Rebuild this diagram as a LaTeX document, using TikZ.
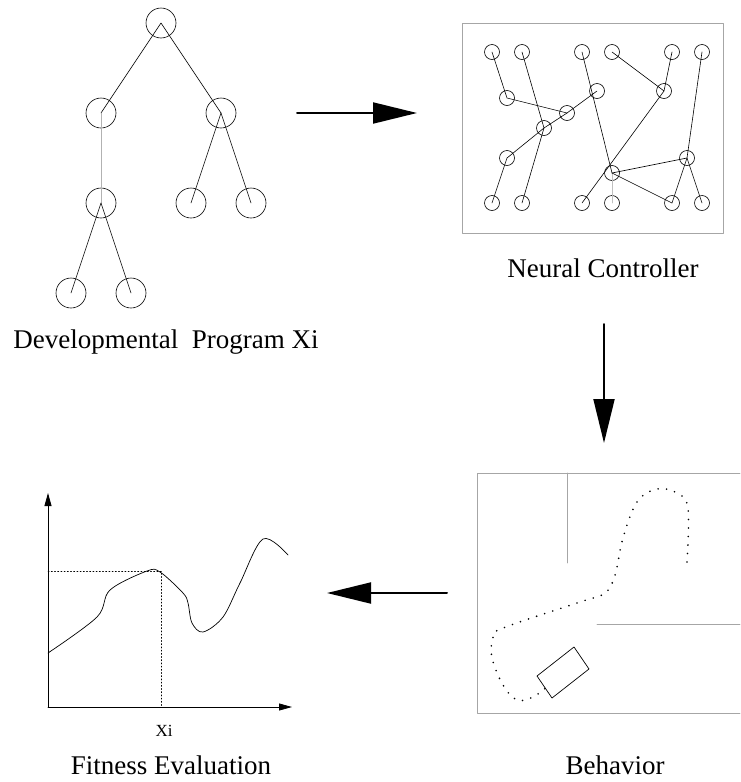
\documentclass[tikz,border=0pt]{standalone}
\usepackage{fontspec}
\setmainfont{Liberation Serif}
\usetikzlibrary{arrows.meta}
\begin{document}
\begin{tikzpicture}[x=1pt,y=-1pt,line cap=round,line join=round,
  gene/.style={circle,draw,line width=0.6pt,minimum size=30pt,inner sep=0pt},
  unit/.style={circle,draw,line width=0.6pt,minimum size=15pt,inner sep=0pt},
  wire/.style={line width=0.6pt},
  bigarrow/.style={line width=2pt,-{Triangle[length=44pt,width=21pt]}},
  axis/.style={line width=0.8pt,-{Triangle[length=13pt,width=7pt]}},
  lbl/.style={font=\fontsize{27}{30}\selectfont,anchor=base}]
\useasboundingbox (0,0) rectangle (740,782);
% developmental program
\node[gene] (root) at (161,23) {};
\node[gene] (l) at (101,113) {};
\node[gene] (r) at (221,113) {};
\node[gene] (ll) at (101,203) {};
\node[gene] (rl) at (191,203) {};
\node[gene] (rr) at (251,203) {};
\node[gene] (lll) at (71,293) {};
\node[gene] (llr) at (131,293) {};
\draw[wire] (root.center) -- (l.center);
\draw[wire] (root.center) -- (r.center);
\draw[wire,gray!60] (l.center) -- (ll.center);
\draw[wire] (ll.center) -- (lll.center);
\draw[wire] (ll.center) -- (llr.center);
\draw[wire] (r.center) -- (rl.center);
\draw[wire] (r.center) -- (rr.center);
\node[lbl] (prog) at (166,348) {Developmental\ \ Program Xi};
% neural controller
\draw[gray!70,line width=0.8pt] (462,23) rectangle (723,233);
\foreach \x [count=\i] in {492,522,582,612,672,702}
{
\node[unit] (t\i) at (\x,52) {};
\node[unit] (b\i) at (\x,203) {};
}
\node[unit] (na) at (507,98) {};
\node[unit] (nb) at (567,113) {};
\node[unit] (nc) at (597,91) {};
\node[unit] (nd) at (544,128) {};
\node[unit] (ne) at (507,158) {};
\node[unit] (nf) at (664,91) {};
\node[unit] (ng) at (612,173) {};
\node[unit] (nh) at (687,158) {};
\draw[wire] (t1.center) -- (na.center) -- (nb.center);
\draw[wire] (t2.center) -- (nd.center) -- (b2.center);
\draw[wire] (ne.center) -- (nd.center) -- (nb.center) -- (nc.center);
\draw[wire] (ne.center) -- (b1.center);
\draw[wire] (t3.center) -- (ng.center);
\draw[wire] (t4.center) -- (nf.center);
\draw[wire] (t5.center) -- (nf.center) -- (b3.center);
\draw[wire,gray!50] (ng.center) -- (b4.center);
\draw[wire] (ng.center) -- (nh.center);
\draw[wire] (ng.center) -- (b5.center);
\draw[wire] (t6.center) -- (nh.center) -- (b5.center);
\draw[wire] (nh.center) -- (b6.center);
\node[lbl] (ctrl) at (603,277) {Neural Controller};
% arrows between the stages
\coordinate (a1) at (297,113);
\coordinate (a2) at (417,113);
\coordinate (a3) at (604,324);
\coordinate (a4) at (604,443);
\coordinate (a5) at (447,593);
\coordinate (a6) at (327,593);
\draw[bigarrow] (a1) -- (a2);
\draw[bigarrow] (a3) -- (a4);
\draw[bigarrow] (a5) -- (a6);
% behavior
\draw[gray!70,line width=0.8pt] (740,473) -- (477,473) -- (477,713) -- (740,713);
\draw[gray!70,line width=0.8pt] (567,473) -- (567,563);
\draw[gray!70,line width=0.8pt] (597,624) -- (740,624);
\draw[line width=0.7pt] (537,676) -- (574,647) -- (589,669) -- (552,698) -- cycle;
\draw[line width=1.8pt,dash pattern=on 0pt off 8.5pt] plot[smooth,tension=0.6] coordinates
 {(687,562) (688,508) (677,493) (657,489) (637,502) (623,538) (615,575) (605,593) (580,602)
  (503,628) (493,638) (492,658) (503,685) (517,700) (533,697) (548,686)};
\node[lbl] (beh) at (615,774) {Behavior};
% fitness evaluation
\coordinate (o) at (48,707);
\coordinate (ytop) at (48,493);
\coordinate (xend) at (292,707);
\coordinate (peak) at (161,571);
\coordinate (ylev) at (48,571);
\coordinate (xi) at (161,707);
\draw[axis] (o) -- (ytop);
\draw[axis] (o) -- (xend);
\draw[line width=0.5pt,dash pattern=on 1.2pt off 2pt] (ylev) -- (peak) -- (xi);
\draw[line width=0.7pt] plot[smooth,tension=0.55] coordinates
 {(48,653) (97,617) (110,590) (147,571) (160,572) (183,593) (188,603) (192,623) (203,632)
  (223,617) (240,583) (263,539) (288,555)};
\node[font=\fontsize{17}{20}\selectfont,anchor=base] (xil) at (164,736) {Xi};
\node[lbl] (fit) at (171,774) {Fitness Evaluation};
\end{tikzpicture}
\end{document}
